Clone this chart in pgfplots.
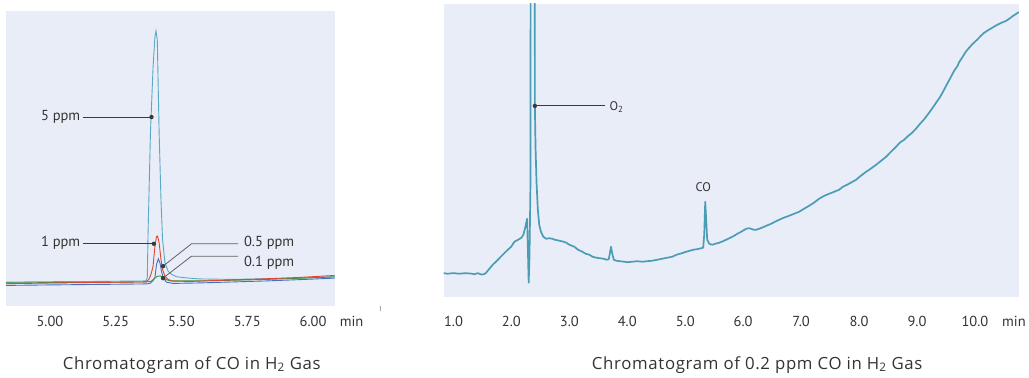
\documentclass[border=0pt]{standalone}
\usepackage{pgfplots}
\pgfplotsset{compat=1.18}
\usepackage{fontspec}
\setmainfont{PT Sans}
\newfontfamily\titlefont[LetterSpace=4]{Open Sans}
\definecolor{bgc}{HTML}{E9EDF7}
\definecolor{textc}{HTML}{333333}
\definecolor{annc}{HTML}{3A3A3A}
\definecolor{tealA}{HTML}{5AA8C4}
\definecolor{tealB}{HTML}{4A9DB5}
\definecolor{redA}{HTML}{E04628}
\definecolor{blueA}{HTML}{466EC8}
\definecolor{greenA}{HTML}{3C9646}
\begin{document}
\begin{tikzpicture}
\path[draw=none, fill=none] (0pt,0pt) rectangle (1029pt,378pt);
% ---------------- left panel ----------------
\begin{axis}[at={(6pt,71.3pt)}, anchor=south west, scale only axis,
  width=329pt, height=295.7pt,
  xmin=4.833, xmax=6.082, ymin=0, ymax=296,
  axis background/.style={fill=bgc},
  axis line style={draw=none},
  xtick={5,5.25,5.5,5.75,6}, xticklabels={5.00,5.25,5.50,5.75,6.00},
  ytick=\empty, major tick length=0pt,
  xticklabel style={anchor=center, yshift=-15.3pt, font=\fontsize{14.5}{16}\selectfont, text=textc},
  clip mode=individual]
\addplot[tealA, line width=0.9pt] coordinates {
(4.833,24.3) (5.0,24.7) (5.190,25) (5.365,25.5) (5.370,29) (5.373,74) (5.382,174) (5.392,240) (5.399,270) (5.403,276) (5.408,267) (5.415,174) (5.422,107) (5.428,67) (5.437,44) (5.449,35.3) (5.463,32) (5.481,29.7) (5.519,28.5) (5.570,27.5) (5.695,27) (5.823,27.7) (5.949,28.3) (6.082,29.7)};
\addplot[blueA, line width=0.9pt] coordinates {
(4.833,21) (5.0,21.5) (5.190,22) (5.365,22.5) (5.380,23) (5.391,25.5) (5.399,28.7) (5.405,42) (5.412,47.7) (5.418,43.7) (5.424,35.3) (5.430,28.7) (5.443,24.3) (5.468,23) (5.570,23.5) (5.700,24.5) (5.823,25.5) (5.95,26.8) (6.082,28.3)};
\addplot[greenA, line width=0.9pt] coordinates {
(4.833,23.5) (5.0,23.8) (5.190,24) (5.365,24.5) (5.384,25) (5.395,27.5) (5.407,30) (5.418,30.5) (5.429,29.5) (5.441,27) (5.456,25.5) (5.570,25.5) (5.700,26.2) (5.823,27) (5.95,28.2) (6.082,29.5)};
\addplot[redA, line width=0.9pt] coordinates {
(4.833,22.7) (5.0,23.4) (5.190,24) (5.365,24.5) (5.376,27) (5.384,32) (5.392,40.3) (5.399,60.3) (5.405,70) (5.409,70.5) (5.415,63.7) (5.422,47) (5.428,37) (5.437,30.3) (5.449,27) (5.468,25.3) (5.532,25) (5.695,26.5) (5.82,27.6) (5.949,29) (6.082,31)};
% annotations
\draw[annc, line width=0.8pt] (axis cs:5.125,189.7) -- (axis cs:5.386,189.7);
\fill[annc] (axis cs:5.386,189.7) circle (2.2pt);
\node[anchor=east, inner sep=0pt, text=textc, font=\fontsize{14.5}{16}\selectfont] at (axis cs:5.116,189.7) {5 ppm};
\draw[annc, line width=0.8pt] (axis cs:5.125,62.7) -- (axis cs:5.395,62.7);
\fill[annc] (axis cs:5.395,62.7) circle (2.2pt);
\node[anchor=east, inner sep=0pt, text=textc, font=\fontsize{14.5}{16}\selectfont] at (axis cs:5.116,63.5) {1 ppm};
\draw[annc!80, line width=0.8pt] (axis cs:5.430,40.3) -- (axis cs:5.538,62.7) -- (axis cs:5.715,62.7);
\fill[annc] (axis cs:5.430,40.3) circle (2.2pt);
\node[anchor=west, inner sep=0pt, text=textc, font=\fontsize{14.5}{16}\selectfont] at (axis cs:5.737,63.7) {0.5 ppm};
\draw[annc!80, line width=0.8pt] (axis cs:5.430,28.3) -- (axis cs:5.538,50.3) -- (axis cs:5.715,50.3);
\fill[annc] (axis cs:5.430,28.3) circle (2.2pt);
\node[anchor=west, inner sep=0pt, text=textc, font=\fontsize{14.5}{16}\selectfont] at (axis cs:5.737,43.7) {0.1 ppm};
\end{axis}
% ---------------- right panel ----------------
\begin{axis}[at={(444pt,81pt)}, anchor=south west, scale only axis,
  width=576pt, height=293pt,
  xmin=0.828, xmax=10.759, ymin=0, ymax=293,
  axis background/.style={fill=bgc},
  axis line style={draw=none},
  xtick={1,2,3,4,5,6,7,8,9,10}, xticklabels={1.0,2.0,3.0,4.0,5.0,6.0,7.0,8.0,9.0,10.0},
  ytick=\empty, major tick length=0pt,
  xticklabel style={anchor=center, yshift=-25pt, font=\fontsize{14.5}{16}\selectfont, text=textc},
  clip mode=individual]
\addplot[tealB, line width=1.7pt, line join=round] coordinates {
(0.828,23.5) (0.9,23) (1.0,23.6) (1.1,23) (1.2,23.5) (1.3,23.2) (1.36,22.5) (1.42,23.5) (1.48,22.2) (1.53,22.5) (1.564,24) (1.62,28) (1.678,32) (1.75,36) (1.80,39) (1.850,42) (1.92,46) (1.995,50) (2.052,55) (2.10,56.5) (2.167,58.7) (2.207,62) (2.241,70) (2.271,78) (2.284,48) (2.298,14) (2.312,40) (2.328,110) (2.345,1000) (2.37,1400) (2.395,1000) (2.405,191) (2.416,150) (2.433,115) (2.455,88) (2.48,72) (2.51,65) (2.55,60) (2.6,58) (2.65,58.5) (2.707,58) (2.75,57) (2.828,56) (2.9,55) (2.948,54) (3.0,52) (3.086,50) (3.15,47) (3.224,45) (3.28,43) (3.345,42) (3.40,40) (3.466,39) (3.53,38.5) (3.586,38) (3.65,37) (3.68,37.5) (3.698,43) (3.719,50) (3.741,43) (3.767,37) (3.81,36) (3.87,35.5) (3.948,35) (4.0,34.5) (4.086,35) (4.17,35.5) (4.259,35) (4.34,35.5) (4.431,36) (4.52,37) (4.603,38) (4.69,39) (4.776,40) (4.85,42) (4.914,43) (5.017,45) (5.08,46) (5.138,47) (5.2,47.5) (5.241,48) (5.31,49) (5.328,62) (5.345,95) (5.362,77) (5.379,57) (5.414,53) (5.466,52) (5.52,53) (5.586,54) (5.65,55.5) (5.707,57) (5.78,59) (5.845,61) (5.9,63) (5.966,65) (6.052,68) (6.1,68.5) (6.138,68) (6.18,67) (6.224,67) (6.3,68.5) (6.362,70) (6.42,71.5) (6.483,73) (6.55,75) (6.621,77) (6.7,79) (6.793,81) (6.88,83) (6.966,85) (7.05,88) (7.138,91) (7.22,94) (7.310,98) (7.4,101) (7.483,103) (7.57,105) (7.655,107) (7.72,110) (7.793,112) (7.87,114.5) (7.948,117) (8.03,121) (8.121,125) (8.2,128) (8.293,132) (8.38,136) (8.466,140) (8.55,145) (8.638,150) (8.7,154) (8.776,157) (8.85,161) (8.914,164) (8.98,168) (9.052,173) (9.13,178) (9.207,184) (9.27,189) (9.328,194) (9.4,200) (9.466,207) (9.52,213) (9.586,220) (9.64,226) (9.70,231) (9.73,235) (9.776,239) (9.84,245) (9.897,249) (9.96,253) (10.034,257) (10.1,261) (10.155,264) (10.22,266.5) (10.293,269) (10.35,271) (10.414,273) (10.47,274.5) (10.534,276) (10.6,278.5) (10.655,281) (10.71,283) (10.759,285)};
\draw[annc, line width=0.8pt] (axis cs:2.405,191) -- (axis cs:3.62,191);
\fill[annc] (axis cs:2.405,191) circle (2.2pt);
\node[anchor=west, inner sep=0pt, text=textc, font=\fontsize{12.5}{14}\selectfont] at (axis cs:3.69,190) {O\textsubscript{2}};
\node[inner sep=0pt, text=textc, font=\fontsize{12.5}{14}\selectfont] at (axis cs:5.31,110) {CO};
\end{axis}
% ---------------- texts outside ----------------
\node[text=textc, font=\fontsize{14.5}{16}\selectfont] at (352pt,56pt) {min};
\node[text=textc, font=\fontsize{14.5}{16}\selectfont] at (1015pt,56pt) {min};
\node[text=textc, font=\titlefont\fontsize{16.8}{19}\selectfont] at (192pt,13pt) {Chromatogram of CO in H\textsubscript{2} Gas};
\node[text=textc, font=\titlefont\fontsize{16.8}{19}\selectfont] at (758pt,13pt) {Chromatogram of 0.2 ppm CO in H\textsubscript{2} Gas};
\draw[gray!70, line width=0.8pt] (381pt,67pt) -- (381pt,72pt);
\end{tikzpicture}
\end{document}
